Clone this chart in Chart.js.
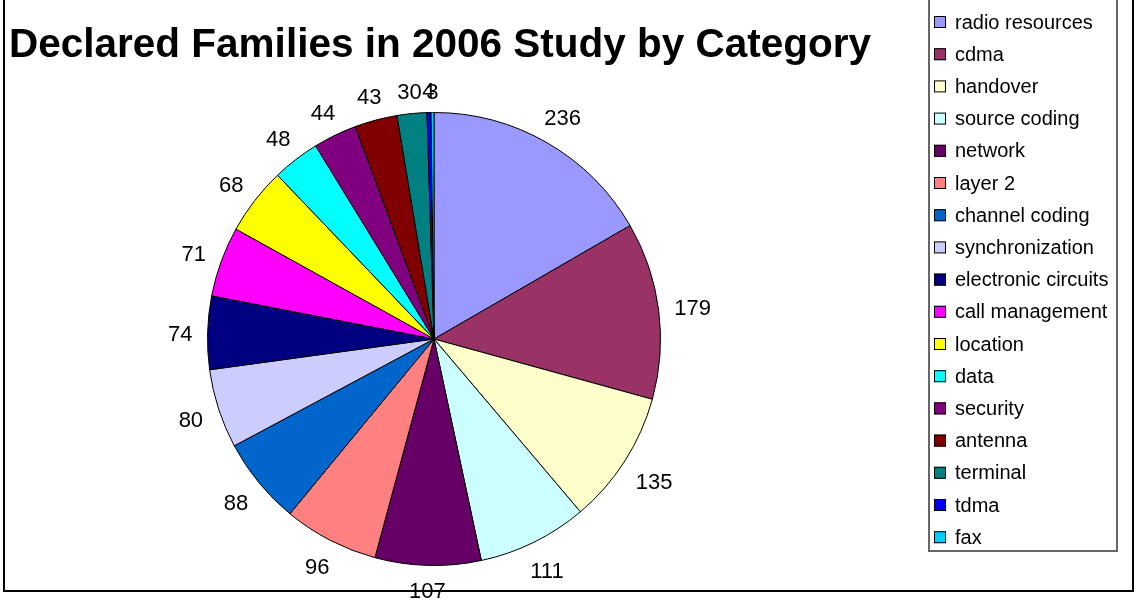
<!DOCTYPE html>
<html>
<head>
<meta charset="utf-8">
<script src="https://cdn.jsdelivr.net/npm/chart.js@4/dist/chart.umd.min.js"></script>
<style>
  html, body { margin: 0; padding: 0; background: #ffffff; }
  #c { display: block; }
</style>
</head>
<body>
<canvas id="c" width="1136" height="602"></canvas>
<script>
const chartTitle = "Declared Families in 2006 Study by Category";
const categories = ["radio resources", "cdma", "handover", "source coding", "network", "layer 2",
  "channel coding", "synchronization", "electronic circuits", "call management", "location",
  "data", "security", "antenna", "terminal", "tdma", "fax"];
const values = [236, 179, 135, 111, 107, 96, 88, 80, 74, 71, 68, 48, 44, 43, 30, 4, 3];
const colors = ["#9999FF", "#993366", "#FFFFCC", "#CCFFFF", "#660066", "#FF8080",
  "#0066CC", "#CCCCFF", "#000080", "#FF00FF", "#FFFF00",
  "#00FFFF", "#800080", "#800000", "#008080", "#0000FF", "#00CCFF"];

const FONT = '"Liberation Sans", Arial, sans-serif';

const decorPlugin = {
  id: 'decor',
  afterDraw(chart) {
    const ctx = chart.ctx;
    ctx.save();
    // outer frame
    ctx.strokeStyle = '#000000';
    ctx.lineWidth = 2;
    ctx.strokeRect(4, -10, 1129, 601);
    // title
    ctx.fillStyle = '#000000';
    ctx.font = 'bold 40.5px ' + FONT;
    ctx.textAlign = 'left';
    ctx.textBaseline = 'alphabetic';
    ctx.fillText(chartTitle, 9, 57);
    // legend box
    ctx.strokeStyle = '#666666';
    ctx.lineWidth = 2;
    ctx.strokeRect(929, -10, 188, 561);
    ctx.font = '20px ' + FONT;
    ctx.textBaseline = 'middle';
    for (let i = 0; i < categories.length; i++) {
      const y = 22 + i * 32.2;
      ctx.fillStyle = colors[i];
      ctx.fillRect(934, y - 6, 12, 12);
      ctx.strokeStyle = '#000000';
      ctx.lineWidth = 1;
      ctx.strokeRect(934.5, y - 5.5, 11, 11);
      ctx.fillStyle = '#000000';
      ctx.fillText(categories[i], 955, y + 1);
    }
    // data labels
    const meta = chart.getDatasetMeta(0);
    ctx.font = '22px ' + FONT;
    ctx.textAlign = 'center';
    ctx.textBaseline = 'middle';
    ctx.fillStyle = '#000000';
    meta.data.forEach((arc, i) => {
      const p = arc.getProps(['x', 'y', 'startAngle', 'endAngle', 'outerRadius'], true);
      const mid = (p.startAngle + p.endAngle) / 2;
      const dx = Math.cos(mid), dy = Math.sin(mid);
      const txt = String(values[i]);
      const w = ctx.measureText(txt).width;
      const h = 16;
      const d = p.outerRadius + 15 + Math.abs(w / 2 * dx) + Math.abs(h / 2 * dy);
      ctx.fillText(txt, p.x + d * dx, p.y + d * dy + 3);
    });
    ctx.restore();
  }
};

new Chart(document.getElementById('c'), {
  type: 'pie',
  data: {
    labels: categories,
    datasets: [{
      data: values,
      backgroundColor: colors,
      borderColor: '#000000',
      borderWidth: 1
    }]
  },
  options: {
    responsive: false,
    animation: false,
    layout: { padding: { left: 207, right: 475, top: 112, bottom: 36 } },
    plugins: {
      legend: { display: false },
      title: { display: false },
      tooltip: { enabled: false }
    }
  },
  plugins: [decorPlugin]
});
</script>
</body>
</html>
